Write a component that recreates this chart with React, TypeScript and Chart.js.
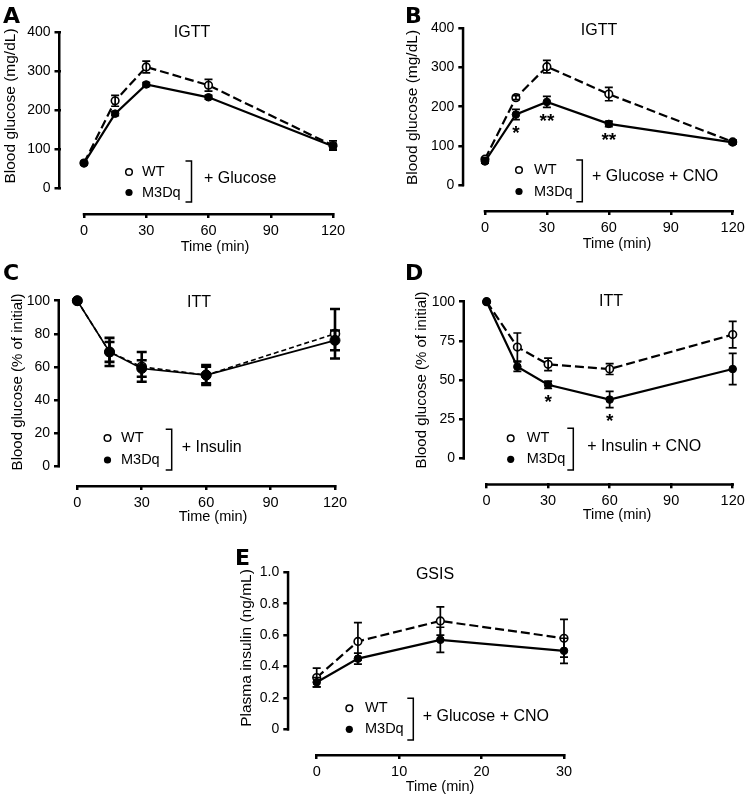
import React, { useEffect, useRef } from 'react';
import { Chart, registerables } from 'chart.js';
Chart.register(...registerables);

const FONT = '"Liberation Sans", Arial, Helvetica, sans-serif';
const LETTER_FONT = '"DejaVu Sans", "Liberation Sans", Arial, sans-serif';

// ---------- data ----------
const TIME_TT = [0, 15, 30, 60, 120];
const TIME_GSIS = [0, 5, 15, 30];
const X_TICKS_TT = [0, 30, 60, 90, 120];
const X_TICKS_GSIS = [0, 10, 20, 30];
const Y_TICKS_GTT = [0, 100, 200, 300, 400];
const Y_TICKS_ITT_C = [0, 20, 40, 60, 80, 100];
const Y_TICKS_ITT_D = [0, 25, 50, 75, 100];
const Y_TICKS_GSIS = [0, 0.2, 0.4, 0.6, 0.8, 1.0];

const A_WT = [64, 224, 311, 264, 109];
const A_WT_ERR = [4, 14, 15, 15, 12];
const A_M3 = [64, 191, 266, 233, 107];
const A_M3_ERR = [3, 5, 5, 5, 8];

const B_WT = [66, 223, 302, 232, 110];
const B_WT_ERR = [4, 5, 16, 17, 5];
const B_M3 = [60, 180, 212, 156, 109];
const B_M3_ERR = [4, 13, 14, 7, 5];
const B_STARS = ['', '*', '**', '**', ''];

const C_WT = [100, 69, 60, 55, 80];
const C_WT_ERR = [0, 6, 9, 5, 15];
const C_M3 = [100, 69, 59, 55, 76];
const C_M3_ERR = [0, 8.5, 5, 6, 6];

const D_WT = [100, 71, 60, 57, 79];
const D_WT_ERR = [0, 9, 4, 3.5, 8.5];
const D_M3 = [100, 58.5, 47, 37.5, 57];
const D_M3_ERR = [0, 3, 2.3, 5.2, 10];
const D_STARS = ['', '', '*', '*', ''];

const E_WT = [0.33, 0.56, 0.69, 0.58];
const E_WT_ERR = [0.06, 0.12, 0.09, 0.12];
const E_M3 = [0.30, 0.45, 0.57, 0.50];
const E_M3_ERR = [0.03, 0.035, 0.08, 0.08];

const intFmt = (v: number) => String(v);
const decFmt = (v: number) => (v === 0 ? '0' : v.toFixed(1));

interface Series { label: string; y: number[]; err: number[]; open: boolean; stars?: string[] }
interface Legend { cx: number; cy: [number, number]; tx: number; bx: number; bTop: number; bBot: number; lx: number; ly: number; text: string }
interface PanelDef {
  letter: string; letterPos: [number, number];
  box: [number, number, number, number];
  axisX: number; axisY: number;
  xRef: [number, number, number, number];
  yRef: [number, number, number, number];
  xs: number[]; xTicks: number[]; yTicks: number[]; yFmt: (v: number) => string;
  title: string; titlePos: [number, number];
  yTitle: string; yTitlePos: [number, number]; yTitleSize: number;
  xTitlePos: [number, number];
  series: Series[];
  legend: Legend;
  thin?: boolean;
}

const PANELS: PanelDef[] = [
  {
    letter: 'A', letterPos: [3, 8], box: [0, 0, 370, 262],
    axisX: 60.5, axisY: 213, xRef: [0, 84, 120, 333], yRef: [0, 188, 400, 32.3],
    xs: TIME_TT, xTicks: X_TICKS_TT, yTicks: Y_TICKS_GTT, yFmt: intFmt,
    title: 'IGTT', titlePos: [192, 33],
    yTitle: 'Blood glucose (mg/dL)', yTitlePos: [11, 106], yTitleSize: 15.5, xTitlePos: [215, 247],
    series: [
      { label: 'WT', y: A_WT, err: A_WT_ERR, open: true },
      { label: 'M3Dq', y: A_M3, err: A_M3_ERR, open: false },
    ],
    legend: { cx: 129, cy: [172, 192.5], tx: 142, bx: 191.5, bTop: 161, bBot: 202, lx: 204, ly: 179, text: '+ Glucose' },
  },
  {
    letter: 'B', letterPos: [405, 8], box: [370, 0, 379, 262],
    axisX: 464.3, axisY: 210, xRef: [0, 485, 120, 733.3], yRef: [0, 185, 400, 28.3],
    xs: TIME_TT, xTicks: X_TICKS_TT, yTicks: Y_TICKS_GTT, yFmt: intFmt,
    title: 'IGTT', titlePos: [599, 31],
    yTitle: 'Blood glucose (mg/dL)', yTitlePos: [413, 107.5], yTitleSize: 15.5, xTitlePos: [617, 244],
    series: [
      { label: 'WT', y: B_WT, err: B_WT_ERR, open: true },
      { label: 'M3Dq', y: B_M3, err: B_M3_ERR, open: false, stars: B_STARS },
    ],
    legend: { cx: 519, cy: [170, 191.5], tx: 534, bx: 582.3, bTop: 160, bBot: 201.7, lx: 592, ly: 177, text: '+ Glucose + CNO' },
  },
  {
    letter: 'C', letterPos: [3, 265], box: [0, 262, 370, 278],
    axisX: 60, axisY: 485, xRef: [0, 77.3, 120, 335], yRef: [0, 466, 100, 300.7],
    xs: TIME_TT, xTicks: X_TICKS_TT, yTicks: Y_TICKS_ITT_C, yFmt: intFmt,
    title: 'ITT', titlePos: [199, 303],
    yTitle: 'Blood glucose (% of initial)', yTitlePos: [18, 382], yTitleSize: 15, xTitlePos: [213, 517],
    series: [
      { label: 'WT', y: C_WT, err: C_WT_ERR, open: true },
      { label: 'M3Dq', y: C_M3, err: C_M3_ERR, open: false },
    ],
    legend: { cx: 107.5, cy: [438, 460], tx: 121, bx: 171.7, bTop: 429.3, bBot: 470, lx: 181.7, ly: 447.7, text: '+ Insulin' },
    thin: true,
  },
  {
    letter: 'D', letterPos: [405, 265], box: [370, 262, 379, 278],
    axisX: 465, axisY: 483.3, xRef: [0, 486.7, 120, 734], yRef: [0, 458.3, 100, 301.7],
    xs: TIME_TT, xTicks: X_TICKS_TT, yTicks: Y_TICKS_ITT_D, yFmt: intFmt,
    title: 'ITT', titlePos: [611, 302],
    yTitle: 'Blood glucose (% of initial)', yTitlePos: [422, 380], yTitleSize: 15, xTitlePos: [617, 515],
    series: [
      { label: 'WT', y: D_WT, err: D_WT_ERR, open: true },
      { label: 'M3Dq', y: D_M3, err: D_M3_ERR, open: false, stars: D_STARS },
    ],
    legend: { cx: 510.7, cy: [438.3, 459.3], tx: 526.7, bx: 573.3, bTop: 428.3, bBot: 470, lx: 587.3, ly: 446.7, text: '+ Insulin + CNO' },
  },
  {
    letter: 'E', letterPos: [235, 550], box: [200, 540, 380, 259],
    axisX: 289.3, axisY: 754, xRef: [0, 316.7, 30, 564], yRef: [0, 729.3, 1, 572.3],
    xs: TIME_GSIS, xTicks: X_TICKS_GSIS, yTicks: Y_TICKS_GSIS, yFmt: decFmt,
    title: 'GSIS', titlePos: [435, 575],
    yTitle: 'Plasma insulin (ng/mL)', yTitlePos: [247, 648], yTitleSize: 15.5, xTitlePos: [440, 787],
    series: [
      { label: 'WT', y: E_WT, err: E_WT_ERR, open: true },
      { label: 'M3Dq', y: E_M3, err: E_M3_ERR, open: false },
    ],
    legend: { cx: 349.3, cy: [708.3, 729.3], tx: 365, bx: 413.3, bTop: 698.3, bBot: 740, lx: 422.7, ly: 716.7, text: '+ Glucose + CNO' },
  },
];

function makePlugin(p: PanelDef) {
  const [L, T] = p.box;
  const thin = !!p.thin;
  return {
    id: 'deco' + p.letter,
    afterDatasetsDraw(chart: any) {
      const ctx = chart.ctx as CanvasRenderingContext2D;
      const xs = chart.scales.x, ys = chart.scales.y;
      ctx.save();
      ctx.strokeStyle = '#000';
      ctx.fillStyle = '#000';
      ctx.lineWidth = thin ? 2.6 : 1.7;
      const cap = thin ? 5 : 4;
      p.series.forEach((s) => {
        p.xs.forEach((xv, i) => {
          const e = s.err[i];
          if (!e) return;
          const px = xs.getPixelForValue(xv);
          const t = ys.getPixelForValue(s.y[i] + e);
          const b = ys.getPixelForValue(s.y[i] - e);
          ctx.beginPath();
          ctx.moveTo(px, t); ctx.lineTo(px, b);
          ctx.moveTo(px - cap, t); ctx.lineTo(px + cap, t);
          ctx.moveTo(px - cap, b); ctx.lineTo(px + cap, b);
          ctx.stroke();
        });
        if (s.stars) {
          const fs = 19;
          ctx.font = `bold ${fs}px ${FONT}`;
          ctx.textAlign = 'center';
          ctx.textBaseline = 'alphabetic';
          s.stars.forEach((st, i) => {
            if (!st) return;
            const px = xs.getPixelForValue(p.xs[i]);
            const cy = ys.getPixelForValue(s.y[i] - s.err[i]) + 9;
            ctx.fillText(st, px, cy + 0.56 * fs);
          });
        }
      });
      ctx.restore();
    },
    afterDraw(chart: any) {
      const ctx = chart.ctx as CanvasRenderingContext2D;
      const xs = chart.scales.x, ys = chart.scales.y;
      const area = chart.chartArea;
      ctx.save();
      ctx.strokeStyle = '#000';
      ctx.fillStyle = '#000';
      // axis lines
      const aw = 2.5;
      ctx.lineWidth = aw;
      const y0 = ys.getPixelForValue(p.yTicks[0]);
      const y1 = ys.getPixelForValue(p.yTicks[p.yTicks.length - 1]);
      ctx.beginPath();
      ctx.moveTo(area.left - aw / 2, y0 + aw / 2);
      ctx.lineTo(area.left - aw / 2, y1 - aw / 2);
      ctx.stroke();
      const x0 = xs.getPixelForValue(p.xTicks[0]);
      const x1 = xs.getPixelForValue(p.xTicks[p.xTicks.length - 1]);
      ctx.beginPath();
      ctx.moveTo(x0 - aw / 2, area.bottom + aw / 2);
      ctx.lineTo(x1 + aw / 2, area.bottom + aw / 2);
      ctx.stroke();
      // titles
      ctx.textAlign = 'center';
      ctx.textBaseline = 'middle';
      ctx.font = `16px ${FONT}`;
      ctx.fillText(p.title, p.titlePos[0] - L, p.titlePos[1] - T);
      ctx.font = `14.5px ${FONT}`;
      ctx.fillText('Time (min)', p.xTitlePos[0] - L, p.xTitlePos[1] - T);
      ctx.save();
      ctx.translate(p.yTitlePos[0] - L, p.yTitlePos[1] - T);
      ctx.rotate(-Math.PI / 2);
      ctx.font = `${p.yTitleSize}px ${FONT}`;
      ctx.fillText(p.yTitle, 0, 0);
      ctx.restore();
      // legend
      const lg = p.legend;
      ctx.lineWidth = 1.5;
      ctx.beginPath();
      ctx.arc(lg.cx - L, lg.cy[0] - T, 3.3, 0, Math.PI * 2);
      ctx.fillStyle = '#fff';
      ctx.fill();
      ctx.stroke();
      ctx.fillStyle = '#000';
      ctx.beginPath();
      ctx.arc(lg.cx - L, lg.cy[1] - T, 3.6, 0, Math.PI * 2);
      ctx.fill();
      ctx.font = `14.5px ${FONT}`;
      ctx.textAlign = 'left';
      ctx.fillText(p.series[0].label, lg.tx - L, lg.cy[0] - T);
      ctx.fillText(p.series[1].label, lg.tx - L, lg.cy[1] - T);
      ctx.beginPath();
      ctx.moveTo(lg.bx - 6 - L, lg.bTop - T);
      ctx.lineTo(lg.bx - L, lg.bTop - T);
      ctx.lineTo(lg.bx - L, lg.bBot - T);
      ctx.lineTo(lg.bx - 6 - L, lg.bBot - T);
      ctx.stroke();
      ctx.font = `16px ${FONT}`;
      ctx.fillText(lg.text, lg.lx - L, lg.ly - T);
      ctx.restore();
    },
  };
}

function buildConfig(p: PanelDef): any {
  const [L, T, W, H] = p.box;
  const thin = !!p.thin;
  const kx = (p.xRef[3] - p.xRef[1]) / (p.xRef[2] - p.xRef[0]);
  const xLast = p.xTicks[p.xTicks.length - 1];
  const areaRight = p.xRef[1] + (xLast - p.xRef[0]) * kx + 9;
  const xmin = p.xRef[0] + (p.axisX - p.xRef[1]) / kx;
  const xmax = p.xRef[0] + (areaRight - p.xRef[1]) / kx;
  const ky = (p.yRef[3] - p.yRef[1]) / (p.yRef[2] - p.yRef[0]);
  const yTop = p.yTicks[p.yTicks.length - 1];
  const areaTop = p.yRef[1] + (yTop - p.yRef[0]) * ky - 8;
  const ymin = p.yRef[0] + (p.axisY - p.yRef[1]) / ky;
  const ymax = p.yRef[0] + (areaTop - p.yRef[1]) / ky;

  const datasets = p.series.map((s) => ({
    label: s.label,
    data: p.xs.map((x, i) => ({ x, y: s.y[i] })),
    borderColor: '#000',
    borderWidth: thin ? 1.6 : 2.2,
    borderDash: s.open ? (thin ? [5, 3] : [9, 4]) : [],
    pointRadius: thin ? (s.open ? 4.5 : 5) : 3.8,
    pointBackgroundColor: s.open ? '#fff' : '#000',
    pointBorderColor: '#000',
    pointBorderWidth: s.open ? 1.6 : 1,
    tension: 0,
    clip: false,
    order: s.open ? 2 : 1,
    fill: false,
  }));

  return {
    type: 'line',
    data: { datasets },
    options: {
      animation: false,
      responsive: false,
      events: [],
      layout: { padding: { left: 0, top: areaTop - T, right: L + W - areaRight, bottom: 0 } },
      plugins: { legend: { display: false }, tooltip: { enabled: false }, title: { display: false } },
      scales: {
        x: {
          type: 'linear', min: xmin, max: xmax,
          afterBuildTicks: (sc: any) => { sc.ticks = p.xTicks.map((v) => ({ value: v })); },
          afterFit: (sc: any) => { sc.height = T + H - p.axisY; },
          grid: { drawOnChartArea: false, drawTicks: true, tickLength: 5, lineWidth: 2.5, color: '#000' },
          border: { display: false },
          ticks: { color: '#000', font: { family: FONT, size: 14.5 }, padding: 4, maxRotation: 0, autoSkip: false, callback: (v: any) => String(v) },
        },
        y: {
          type: 'linear', min: ymin, max: ymax,
          afterBuildTicks: (sc: any) => { sc.ticks = p.yTicks.map((v) => ({ value: v })); },
          afterFit: (sc: any) => { sc.width = p.axisX - L; },
          grid: { drawOnChartArea: false, drawTicks: true, tickLength: 6, lineWidth: 2.5, color: '#000' },
          border: { display: false },
          ticks: { color: '#000', font: { family: FONT, size: 14 }, padding: 4, autoSkip: false, callback: (v: any) => p.yFmt(v) },
        },
      },
    },
    plugins: [makePlugin(p)],
  };
}

function Panel({ p }: { p: PanelDef }) {
  const ref = useRef<HTMLCanvasElement>(null);
  useEffect(() => {
    const chart = new Chart(ref.current as HTMLCanvasElement, buildConfig(p));
    return () => chart.destroy();
  }, [p]);
  const [L, T, W, H] = p.box;
  return (
    <canvas ref={ref} width={W} height={H}
      style={{ position: 'absolute', left: L, top: T, width: W, height: H }} />
  );
}

export default function App() {
  return (
    <div style={{ position: 'absolute', left: 0, top: 0, width: 749, height: 799, background: '#fff', overflow: 'hidden' }}>
      {PANELS.map((p) => <Panel key={p.letter} p={p} />)}
      {PANELS.map((p) => (
        <div key={'lt' + p.letter}
          style={{ position: 'absolute', left: p.letterPos[0], top: p.letterPos[1] - 3, font: `bold 22px ${LETTER_FONT}`, lineHeight: '22px', color: '#000' }}>
          {p.letter}
        </div>
      ))}
    </div>
  );
}
